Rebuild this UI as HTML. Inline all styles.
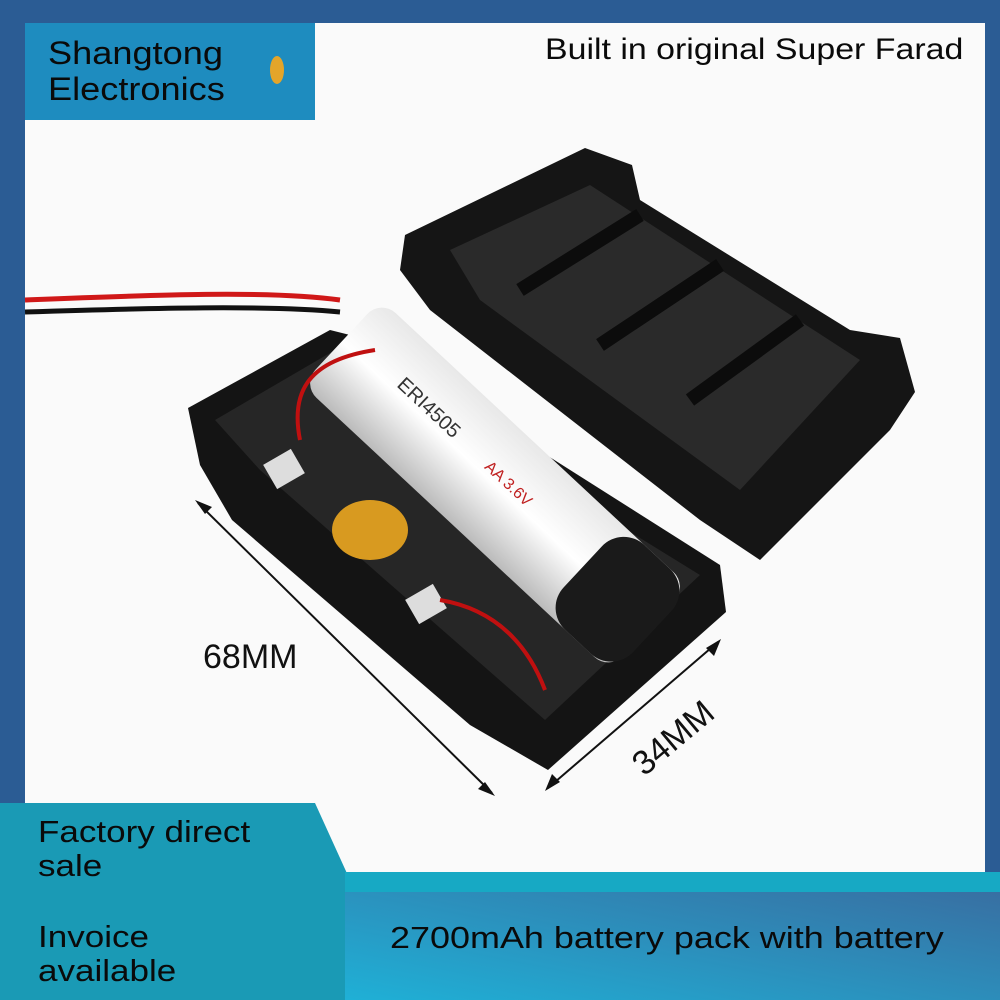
<!DOCTYPE html>
<html><head><meta charset="utf-8"><style>
html,body{margin:0;padding:0}
body{width:1000px;height:1000px;position:relative;overflow:hidden;background:#2b5c94;font-family:"Liberation Sans",sans-serif}
.t{position:absolute;color:#0a0a0a;white-space:nowrap;transform-origin:0 0}
</style></head><body>
<div style="position:absolute;left:25px;top:23px;width:960px;height:880px;background:#fafafa"></div>
<svg style="position:absolute;left:0;top:0" width="1000" height="1000">
<defs>
<linearGradient id="bg" x1="0" y1="1" x2="1" y2="0"><stop offset="0" stop-color="#1fb0d6"/><stop offset="1" stop-color="#3a6a9e"/></linearGradient>
<linearGradient id="bat" x1="0" y1="0" x2="0" y2="1"><stop offset="0" stop-color="#e8e8e8"/><stop offset=".5" stop-color="#fff"/><stop offset="1" stop-color="#bbb"/></linearGradient>
</defs>
<path d="M25,300 C150,295 270,290 340,300" stroke="#d01818" stroke-width="5" fill="none"/>
<path d="M25,312 C150,308 270,305 340,312" stroke="#111" stroke-width="5" fill="none"/>
<polygon points="405,235 585,148 632,165 640,200 850,330 900,338 915,392 890,430 760,560 700,520 430,310 400,270" fill="#151515"/>
<polygon points="450,250 590,185 860,360 740,490 480,300" fill="#2a2a2a"/>
<path d="M520,290 L640,215 M600,345 L720,265 M690,400 L800,320" stroke="#0c0c0c" stroke-width="14"/>
<polygon points="188,408 330,330 362,338 720,565 726,612 548,770 470,725 232,520 200,465" fill="#141414"/>
<polygon points="215,420 335,350 700,575 545,720 260,470" fill="#262626"/>
<g transform="translate(495,485) rotate(43)">
<rect x="-210" y="-58" width="420" height="116" rx="20" fill="url(#bat)"/>
<rect x="120" y="-58" width="95" height="116" rx="30" fill="#1a1a1a"/>
<text x="-140" y="-5" font-size="20" fill="#333">ERI4505</text>
<text x="-20" y="-5" font-size="16" fill="#c02020">AA 3.6V</text>
</g>
<ellipse cx="370" cy="530" rx="38" ry="30" fill="#d89a20"/>
<rect x="268" y="455" width="32" height="28" fill="#ddd" transform="rotate(-30 284 469)"/>
<rect x="410" y="590" width="32" height="28" fill="#ddd" transform="rotate(-30 426 604)"/>
<path d="M300,440 C290,390 310,360 375,350" stroke="#c01010" stroke-width="4" fill="none"/>
<path d="M440,600 C500,610 530,650 545,690" stroke="#c01010" stroke-width="4" fill="none"/>
<line x1="198" y1="503" x2="492" y2="793" stroke="#111" stroke-width="2"/>
<polygon points="195,500 212,507 205,514" fill="#111"/>
<polygon points="495,796 478,789 485,782" fill="#111"/>
<line x1="548" y1="788" x2="718" y2="642" stroke="#111" stroke-width="2"/>
<polygon points="545,791 552,774 560,782" fill="#111"/>
<polygon points="721,639 714,656 706,648" fill="#111"/>
<polygon points="0,803 315,803 350,880 345,1000 0,1000" fill="#1a9ab5"/>
<rect x="345" y="872" width="655" height="128" fill="url(#bg)"/>
<rect x="345" y="872" width="655" height="20" fill="#17a9c4"/>
<rect x="25" y="23" width="290" height="97" fill="#1e8cbf"/>
<ellipse cx="277" cy="70" rx="7" ry="14" fill="#e3a52a"/>
</svg>
<div class="t" style="left:48px;top:35px;font-size:32px;line-height:36px;transform:scaleX(1.13)">Shangtong<br>Electronics</div>
<div class="t" style="left:545px;top:33px;font-size:30px;transform:scaleX(1.13)">Built in original Super Farad</div>
<div class="t" style="left:203px;top:638px;font-size:34px;color:#111">68MM</div>
<div class="t" style="left:625px;top:754px;font-size:34px;color:#111;transform:rotate(-40deg)">34MM</div>
<div class="t" style="left:38px;top:815px;font-size:31px;line-height:34px;transform:scaleX(1.13)">Factory direct<br>sale</div>
<div class="t" style="left:38px;top:920px;font-size:31px;line-height:34px;transform:scaleX(1.13)">Invoice<br>available</div>
<div class="t" style="left:390px;top:920px;font-size:31px;transform:scaleX(1.16)">2700mAh battery pack with battery</div>
</body></html>
